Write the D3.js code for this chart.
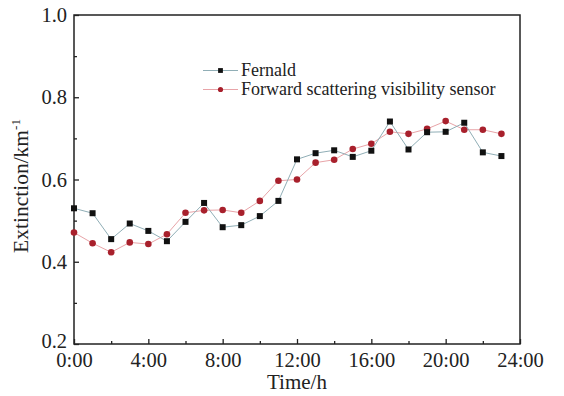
<!DOCTYPE html>
<html><head><meta charset="utf-8">
<script src="https://cdn.jsdelivr.net/npm/d3@7"></script>
<style>body{margin:0;background:#fff}svg{display:block}text{font-family:"Liberation Serif","Times New Roman",serif;fill:#222}</style>
</head><body><svg id="c" width="564" height="396"></svg>
<script>
const hours = d3.range(0, 24);
const fernald = [0.530,0.518,0.455,0.493,0.475,0.450,0.497,0.543,0.484,0.489,0.511,0.548,0.649,0.664,0.671,0.655,0.670,0.741,0.673,0.715,0.716,0.738,0.666,0.657];
const sensor  = [0.471,0.445,0.423,0.447,0.443,0.467,0.519,0.525,0.526,0.519,0.548,0.597,0.600,0.641,0.648,0.674,0.687,0.716,0.711,0.723,0.742,0.721,0.721,0.711];
const xTicks = [0,4,8,12,16,20,24];
const xTickLabels = ["0:00","4:00","8:00","12:00","16:00","20:00","24:00"];
const yTicks = [0.2,0.4,0.6,0.8,1.0];
const seriesNames = ["Fernald","Forward scattering visibility sensor"];

const svg = d3.select("#c");
const L=74, R=520, T=15, B=344;
const x = d3.scaleLinear().domain([0,24]).range([L,R]);
const y = d3.scaleLinear().domain([0.2,1.0]).range([B,T]);

// frame
svg.append("rect").attr("x",L).attr("y",T).attr("width",R-L).attr("height",B-T)
  .attr("fill","none").attr("stroke","#222").attr("stroke-width",1.5);

// x axis
const xa = svg.append("g").attr("transform",`translate(0,${B})`)
  .call(d3.axisBottom(x).tickValues(xTicks).tickSize(-5).tickPadding(9).tickFormat((d,i)=>xTickLabels[i]));
xa.select(".domain").remove();
xa.selectAll(".tick line").attr("stroke","#222").attr("stroke-width",1.3);
xa.selectAll("text").attr("font-size",20.5).attr("fill","#222").attr("dy",null).attr("y",23);
svg.append("g").attr("transform",`translate(0,${B})`)
  .call(d3.axisBottom(x).tickValues(d3.range(2,24,4)).tickSize(-3).tickFormat(""))
  .call(g=>{g.select(".domain").remove();g.selectAll("line").attr("stroke","#222").attr("stroke-width",1.3);});

// y axis
const ya = svg.append("g").attr("transform",`translate(${L},0)`)
  .call(d3.axisLeft(y).tickValues(yTicks).tickSize(-5).tickPadding(7).tickFormat(d3.format(".1f")));
ya.select(".domain").remove();
ya.selectAll(".tick line").attr("stroke","#222").attr("stroke-width",1.3);
ya.selectAll("text").attr("font-size",20.5).attr("fill","#222").attr("dy","0.32em");
ya.selectAll(".tick").filter(d=>d===0.2).select("text").attr("dy","0.18em");
svg.append("g").attr("transform",`translate(${L},0)`)
  .call(d3.axisLeft(y).tickValues([0.3,0.5,0.7,0.9]).tickSize(-3).tickFormat(""))
  .call(g=>{g.select(".domain").remove();g.selectAll("line").attr("stroke","#222").attr("stroke-width",1.3);});

// titles
svg.append("text").attr("x",(L+R)/2).attr("y",389).attr("text-anchor","middle").attr("font-size",21).text("Time/h");
const yt = svg.append("text").attr("transform",`translate(28,186) rotate(-90)`).attr("text-anchor","middle").attr("font-size",21.5);
yt.append("tspan").text("Extinction/km");
yt.append("tspan").attr("font-size",13).attr("dy",-8).text("-1");

const line = d3.line().x((d,i)=>x(hours[i])).y(d=>y(d));
// sensor series
svg.append("path").datum(sensor).attr("d",line).attr("fill","none").attr("stroke","#e8a4a8").attr("stroke-width",1);
svg.append("g").selectAll("circle").data(sensor).join("circle")
  .attr("cx",(d,i)=>x(hours[i])).attr("cy",d=>y(d)).attr("r",3.3).attr("fill","#a8202c");
// fernald series
svg.append("path").datum(fernald).attr("d",line).attr("fill","none").attr("stroke","#90aeb6").attr("stroke-width",1);
svg.append("g").selectAll("rect").data(fernald).join("rect")
  .attr("x",(d,i)=>x(hours[i])-3).attr("y",d=>y(d)-3).attr("width",6).attr("height",6).attr("fill","#111");

// legend
const lg = svg.append("g");
const lx0=203, lx1=238, ly=[70.5,89.5];
lg.append("line").attr("x1",lx0).attr("x2",lx1).attr("y1",ly[0]).attr("y2",ly[0]).attr("stroke","#90aeb6");
lg.append("rect").attr("x",(lx0+lx1)/2-2.4).attr("y",ly[0]-2.4).attr("width",4.8).attr("height",4.8).attr("fill","#111");
lg.append("line").attr("x1",lx0).attr("x2",lx1).attr("y1",ly[1]).attr("y2",ly[1]).attr("stroke","#e8a4a8");
lg.append("circle").attr("cx",(lx0+lx1)/2).attr("cy",ly[1]).attr("r",2.6).attr("fill","#a8202c");
seriesNames.forEach((n,i)=>lg.append("text").attr("x",lx1+3).attr("y",ly[i]+5.8).attr("font-size",18).text(n));
</script></body></html>
